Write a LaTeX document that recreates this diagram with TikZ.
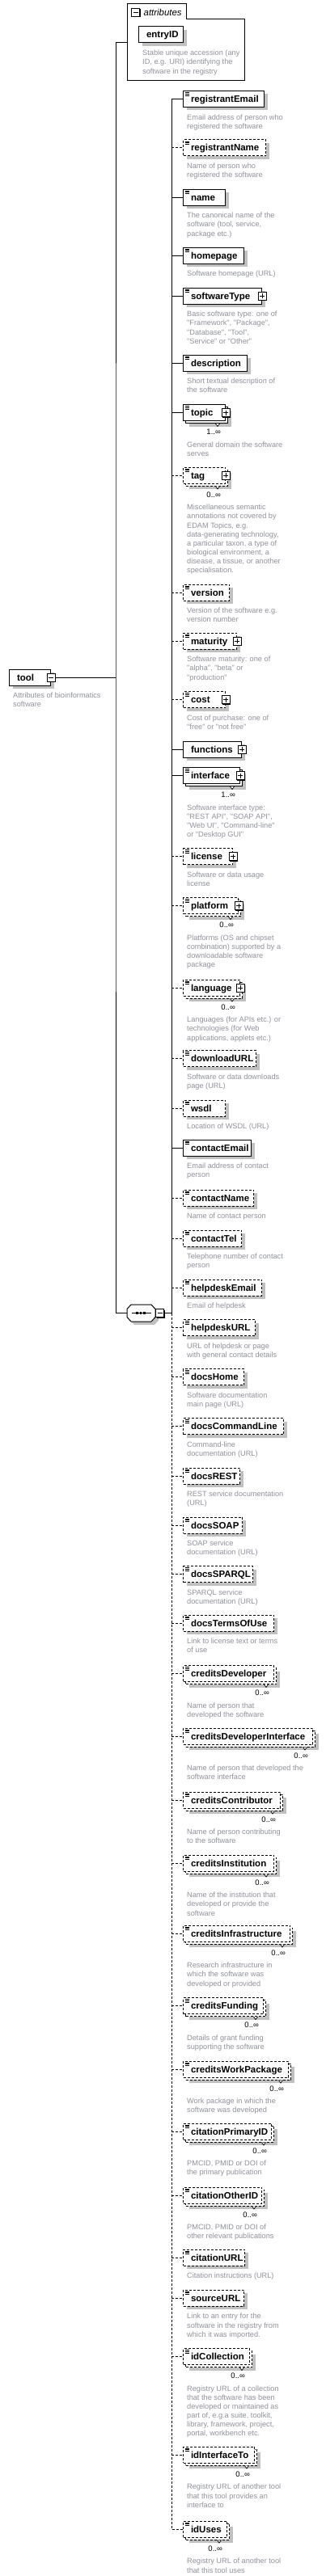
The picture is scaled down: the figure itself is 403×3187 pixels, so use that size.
\documentclass[tikz,border=0pt]{standalone}
\usepackage{fontspec}
\setmainfont{Liberation Sans}
\usepackage{tikz}
\usetikzlibrary{positioning,shadows}
\definecolor{xsShade}{HTML}{C0C0C0}
\definecolor{xsNote}{HTML}{8E9199}
\tikzset{
  xsnode/.style={rectangle, draw, line width=1pt, fill=white, anchor=west,
                 minimum height=20pt, inner sep=0pt, text width=#1pt, align=left,
                 text height=9.5pt, text depth=1.5pt,
                 font=\fontsize{11.5}{13}\selectfont\bfseries,
                 execute at begin node={\noindent\hspace*{9.5pt}}},
  elem/.style={xsnode=#1, drop shadow={shadow xshift=4pt, shadow yshift=-4pt,
                 opacity=1, fill=xsShade, draw=none}},
  optelem/.style={elem=#1, dash pattern=on 3pt off 2pt},
  melem/.style={xsnode=#1, drop shadow={shadow xshift=7pt, shadow yshift=-7pt,
                 opacity=1, fill=xsShade, draw=none},
                copy shadow={shadow xshift=3pt, shadow yshift=-3pt, fill=white, draw=black}},
  optmelem/.style={xsnode=#1, drop shadow={shadow xshift=7pt, shadow yshift=-7pt,
                 opacity=1, fill=xsShade, draw=none},
                copy shadow={shadow xshift=3pt, shadow yshift=-3pt, fill=white, draw=black,
                 dash pattern=on 3pt off 2pt},
                dash pattern=on 3pt off 2pt},
  docmark/.style={path picture={
      \foreach \k in {2,3.7,5.4}
        \draw[solid, line width=.7pt]
          ([xshift=2pt, yshift=-\k pt]path picture bounding box.north west) -- ++(5,0);}},
  foldbox/.style={rectangle, draw, solid, line width=1pt, fill=white, minimum size=10pt,
                  inner sep=0pt, drop shadow={shadow xshift=1pt, shadow yshift=-1pt,
                  opacity=1, fill=black, draw=none}},
  plusbox/.style={foldbox, path picture={
      \draw[line width=1pt] ([xshift=-3pt]path picture bounding box.center) -- ++(6,0)
                            ([yshift=3pt]path picture bounding box.center) -- ++(0,6);}},
  minusbox/.style={foldbox, path picture={
      \draw[line width=1pt] ([xshift=-3pt]path picture bounding box.center) -- ++(6,0);}},
  seqframe/.style={rectangle, minimum width=35pt, minimum height=21pt, inner sep=0pt},
  note/.style={anchor=north west, xshift=5pt, align=left, inner sep=0pt,
               font=\fontsize{9.2}{11.1}\selectfont, text=xsNote},
  occurs/.style={anchor=north east, inner sep=0pt, font=\fontsize{9.5}{11}\selectfont},
  link/.style={draw, line width=1pt},
  optlink/.style={link, dash pattern=on 3pt off 2pt},
}
\begin{document}
\begin{tikzpicture}[x=1pt, y=-1pt]
  \useasboundingbox (0,0) rectangle (403,3187);

  \node[anchor=north west, minimum width=145pt, minimum height=94pt, inner sep=0pt] (attrs) at (157,5) {};
  \draw[link] (attrs.north west) -- ++(73,0) |- ([yshift=-19pt]attrs.north east)
    -- (attrs.south east) -- (attrs.south west) -- cycle;
  \node[minusbox] (attrs-fold) at (167.5,15.5) {};
  \node[inner sep=0pt, font=\fontsize{11.4}{13}\selectfont\itshape, right=4.5pt of attrs-fold] (attrs-title) {attributes};
  \node[elem=55] (entryID) at (171,43) {entryID};
  \node[below=8.5pt of entryID.south west, note] (entryID-doc) {Stable unique accession (any\\ID, e.g. URI) identifying the\\software in the registry};

  \node[elem=51] (tool) at (11,838) {tool};
  \node[minusbox] (tool-fold) at (tool.east) {};
  \node[below=8.5pt of tool.south west, note] (tool-doc) {Attributes of bioinformatics\\software};

  \node[seqframe] (seq) at (174.5,1624.5) {};
  \fill[xsShade, shift={(4,4)}] (157,1619.5) -- (162,1614) -- (187,1614) -- (192,1619.5)
    -- (192,1629.5) -- (187,1635) -- (162,1635) -- (157,1629.5) -- cycle;
  \draw[link, fill=white] (157,1619.5) -- (162,1614) -- (187,1614) -- (192,1619.5)
    -- (192,1629.5) -- (187,1635) -- (162,1635) -- (157,1629.5) -- cycle;
  \draw[line width=1pt] ([xshift=-11.5pt]seq.center) -- ++(24,0);
  \foreach \k in {-4.8,-0.5,3.8}
    \fill[black] ([xshift=\k pt]seq.center) +(-1.4,-1.4) rectangle +(1.4,1.4);
  \node[minusbox, right=0pt of seq] (seq-fold) {};
  \coordinate (spine) at (143,838);
  \coordinate (kids) at ([xshift=9pt]seq-fold.east);

  \node[elem=100, docmark] (registrantEmail) at (226,122.5) {registrantEmail};
  \node[below=8.5pt of registrantEmail.south west, note] (registrantEmail-doc) {Email address of person who\\registered the software};
  \node[optelem=102, docmark] (registrantName) at (226,183) {registrantName};
  \node[below=8.5pt of registrantName.south west, note] (registrantName-doc) {Name of person who\\registered the software};
  \node[elem=52, docmark] (name) at (226,244) {name};
  \node[below=8.5pt of name.south west, note] (name-doc) {The canonical name of the\\software (tool, service,\\package etc.)};
  \node[elem=75, docmark] (homepage) at (226,316) {homepage};
  \node[below=8.5pt of homepage.south west, note] (homepage-doc) {Software homepage (URL)};
  \node[elem=97, docmark] (softwareType) at (226,366) {softwareType};
  \node[below=8.5pt of softwareType.south west, note] (softwareType-doc) {Basic software type: one of\\\textquotedbl Framework\textquotedbl, \textquotedbl Package\textquotedbl,\\\textquotedbl Database\textquotedbl, \textquotedbl Tool\textquotedbl,\\\textquotedbl Service\textquotedbl{} or \textquotedbl Other\textquotedbl};
  \node[elem=79, docmark] (description) at (226,449) {description};
  \node[below=8.5pt of description.south west, note] (description-doc) {Short textual description of\\the software};
  \node[melem=52, docmark] (topic) at (226,510.5) {topic};
  \node[below=25.5pt of topic.south west, note] (topic-doc) {General domain the software\\serves};
  \node[optmelem=52, docmark] (tag) at (226,588) {tag};
  \node[below=25.5pt of tag.south west, note] (tag-doc) {Miscellaneous semantic\\annotations not covered by\\EDAM Topics, e.g.\\data-generating technology,\\a particular taxon, a type of\\biological environment, a\\disease, a tissue, or another\\specialisation.};
  \node[optelem=57, docmark] (version) at (226,733) {version};
  \node[below=8.5pt of version.south west, note] (version-doc) {Version of the software e.g.\\version number};
  \node[optelem=66, docmark] (maturity) at (226,793) {maturity};
  \node[below=8.5pt of maturity.south west, note] (maturity-doc) {Software maturity: one of\\\textquotedbl alpha\textquotedbl, \textquotedbl beta\textquotedbl{} or\\\textquotedbl production\textquotedbl};
  \node[optelem=52, docmark] (cost) at (226,865.5) {cost};
  \node[below=8.5pt of cost.south west, note] (cost-doc) {Cost of purchase: one of\\\textquotedbl free\textquotedbl{} or \textquotedbl not free\textquotedbl};
  \node[elem=72] (functions) at (226,927) {functions};
  \node[melem=70, docmark] (interface) at (226,959.5) {interface};
  \node[below=25.5pt of interface.south west, note] (interface-doc) {Software interface type:\\\textquotedbl REST API\textquotedbl, \textquotedbl SOAP API\textquotedbl,\\\textquotedbl Web UI\textquotedbl, \textquotedbl Command-line\textquotedbl\\or \textquotedbl Desktop GUI\textquotedbl};
  \node[optelem=61, docmark] (license) at (226,1059.5) {license};
  \node[below=8.5pt of license.south west, note] (license-doc) {Software or data usage\\license};
  \node[optmelem=68, docmark] (platform) at (226,1120.5) {platform};
  \node[below=25.5pt of platform.south west, note] (platform-doc) {Platforms (OS and chipset\\combination) supported by a\\downloadable software\\package};
  \node[optmelem=70, docmark] (language) at (226,1222) {language};
  \node[below=25.5pt of language.south west, note] (language-doc) {Languages (for APIs etc.) or\\technologies (for Web\\applications, applets etc.)};
  \node[optelem=90, docmark] (downloadURL) at (226,1309.5) {downloadURL};
  \node[below=8.5pt of downloadURL.south west, note] (downloadURL-doc) {Software or data downloads\\page (URL)};
  \node[optelem=52, docmark] (wsdl) at (226,1371) {wsdl};
  \node[below=8.5pt of wsdl.south west, note] (wsdl-doc) {Location of WSDL (URL)};
  \node[elem=84, docmark] (contactEmail) at (226,1420) {contactEmail};
  \node[below=8.5pt of contactEmail.south west, note] (contactEmail-doc) {Email address of contact\\person};
  \node[optelem=87, docmark] (contactName) at (226,1482) {contactName};
  \node[below=8.5pt of contactName.south west, note] (contactName-doc) {Name of contact person};
  \node[optelem=72, docmark] (contactTel) at (226,1532) {contactTel};
  \node[below=8.5pt of contactTel.south west, note] (contactTel-doc) {Telephone number of contact\\person};
  \node[optelem=97, docmark] (helpdeskEmail) at (226,1593) {helpdeskEmail};
  \node[below=8.5pt of helpdeskEmail.south west, note] (helpdeskEmail-doc) {Email of helpdesk};
  \node[optelem=89, docmark] (helpdeskURL) at (226,1642.5) {helpdeskURL};
  \node[below=8.5pt of helpdeskURL.south west, note] (helpdeskURL-doc) {URL of helpdesk or page\\with general contact details};
  \node[optelem=75, docmark] (docsHome) at (226,1703.5) {docsHome};
  \node[below=8.5pt of docsHome.south west, note] (docsHome-doc) {Software documentation\\main page (URL)};
  \node[optelem=124, docmark] (docsCommandLine) at (226,1764.5) {docsCommandLine};
  \node[below=8.5pt of docsCommandLine.south west, note] (docsCommandLine-doc) {Command-line\\documentation (URL)};
  \node[optelem=70, docmark] (docsREST) at (226,1826) {docsREST};
  \node[below=8.5pt of docsREST.south west, note] (docsREST-doc) {REST service documentation\\(URL)};
  \node[optelem=73, docmark] (docsSOAP) at (226,1887) {docsSOAP};
  \node[below=8.5pt of docsSOAP.south west, note] (docsSOAP-doc) {SOAP service\\documentation (URL)};
  \node[optelem=86, docmark] (docsSPARQL) at (226,1947.5) {docsSPARQL};
  \node[below=8.5pt of docsSPARQL.south west, note] (docsSPARQL-doc) {SPARQL service\\documentation (URL)};
  \node[optelem=112, docmark] (docsTermsOfUse) at (226,2008) {docsTermsOfUse};
  \node[below=8.5pt of docsTermsOfUse.south west, note] (docsTermsOfUse-doc) {Link to license text or terms\\of use};
  \node[optmelem=112, docmark] (creditsDeveloper) at (226,2070.5) {creditsDeveloper};
  \node[below=25.5pt of creditsDeveloper.south west, note] (creditsDeveloper-doc) {Name of person that\\developed the software};
  \node[optmelem=160, docmark] (creditsDeveloperInterface) at (226,2148) {creditsDeveloperInterface};
  \node[below=25.5pt of creditsDeveloperInterface.south west, note] (creditsDeveloperInterface-doc) {Name of person that developed the\\software interface};
  \node[optmelem=120, docmark] (creditsContributor) at (226,2227) {creditsContributor};
  \node[below=25.5pt of creditsContributor.south west, note] (creditsContributor-doc) {Name of person contributing\\to the software};
  \node[optmelem=112, docmark] (creditsInstitution) at (226,2305) {creditsInstitution};
  \node[below=25.5pt of creditsInstitution.south west, note] (creditsInstitution-doc) {Name of the institution that\\developed or provide the\\software};
  \node[optmelem=132, docmark] (creditsInfrastructure) at (226,2392) {creditsInfrastructure};
  \node[below=25.5pt of creditsInfrastructure.south west, note] (creditsInfrastructure-doc) {Research infrastructure in\\which the software was\\developed or provided};
  \node[optmelem=99, docmark] (creditsFunding) at (226,2481.5) {creditsFunding};
  \node[below=25.5pt of creditsFunding.south west, note] (creditsFunding-doc) {Details of grant funding\\supporting the software};
  \node[optmelem=130, docmark] (creditsWorkPackage) at (226,2560) {creditsWorkPackage};
  \node[below=25.5pt of creditsWorkPackage.south west, note] (creditsWorkPackage-doc) {Work package in which the\\software was developed};
  \node[optmelem=109, docmark] (citationPrimaryID) at (226,2637) {citationPrimaryID};
  \node[below=25.5pt of citationPrimaryID.south west, note] (citationPrimaryID-doc) {PMCID, PMID or DOI of\\the primary publication};
  \node[optmelem=97, docmark] (citationOtherID) at (226,2716) {citationOtherID};
  \node[below=25.5pt of citationOtherID.south west, note] (citationOtherID-doc) {PMCID, PMID or DOI of\\other relevant publications};
  \node[optelem=76, docmark] (citationURL) at (226,2793) {citationURL};
  \node[below=8.5pt of citationURL.south west, note] (citationURL-doc) {Citation instructions (URL)};
  \node[optelem=75, docmark] (sourceURL) at (226,2843) {sourceURL};
  \node[below=8.5pt of sourceURL.south west, note] (sourceURL-doc) {Link to an entry for the\\software in the registry from\\which it was imported.};
  \node[optmelem=82, docmark] (idCollection) at (226,2915.5) {idCollection};
  \node[below=25.5pt of idCollection.south west, note] (idCollection-doc) {Registry URL of a collection\\that the software has been\\developed or maintained as\\part of, e.g.a suite, toolkit,\\library, framework, project,\\portal, workbench etc.};
  \node[optmelem=88, docmark] (idInterfaceTo) at (226,3037) {idInterfaceTo};
  \node[below=25.5pt of idInterfaceTo.south west, note] (idInterfaceTo-doc) {Registry URL of another tool\\that this tool provides an\\interface to};
  \node[optmelem=54, docmark] (idUses) at (226,3129) {idUses};
  \node[below=25.5pt of idUses.south west, note] (idUses-doc) {Registry URL of another tool\\that this tool uses};

  \foreach \n in {softwareType,topic,tag,maturity,cost,functions,interface,license,platform,language}
    \node[plusbox] (\n-plus) at (\n.east) {};
  \foreach \n/\o in {topic/1,tag/0,interface/1,platform/0,language/0,creditsDeveloper/0,
      creditsDeveloperInterface/0,creditsContributor/0,creditsInstitution/0,
      creditsInfrastructure/0,creditsFunding/0,creditsWorkPackage/0,citationPrimaryID/0,
      citationOtherID/0,idCollection/0,idInterfaceTo/0,idUses/0}{
    \draw[line width=.7pt, fill=white] ([xshift=-12.5pt,yshift=-3pt]\n.south east) -- ++(2.5,3.5) -- ++(2.5,-3.5);
    \node[occurs] (\n-occurs) at ([xshift=-6pt,yshift=-10pt]\n.south east) {\o..∞};
  }

  \draw[link] (tool-fold.east) -- (spine);
  \draw[link] (attrs.west) -| (spine) |- (seq.west);
  \draw[link] (seq-fold.east) -- (kids);
  \draw[link] (kids) |- (registrantEmail.west);
  \draw[optlink] (kids) |- (idUses.west);
  \foreach \n in {name,homepage,softwareType,description,topic,functions,interface,contactEmail}
    \draw[link] (kids |- \n.west) -- (\n.west);
  \foreach \n in {registrantName,tag,version,maturity,cost,license,platform,language,
      downloadURL,wsdl,contactName,contactTel,helpdeskEmail,helpdeskURL,docsHome,
      docsCommandLine,docsREST,docsSOAP,docsSPARQL,docsTermsOfUse,creditsDeveloper,
      creditsDeveloperInterface,creditsContributor,creditsInstitution,creditsInfrastructure,
      creditsFunding,creditsWorkPackage,citationPrimaryID,citationOtherID,citationURL,
      sourceURL,idCollection,idInterfaceTo}
    \draw[optlink] (kids |- \n.west) -- (\n.west);
\end{tikzpicture}
\end{document}
